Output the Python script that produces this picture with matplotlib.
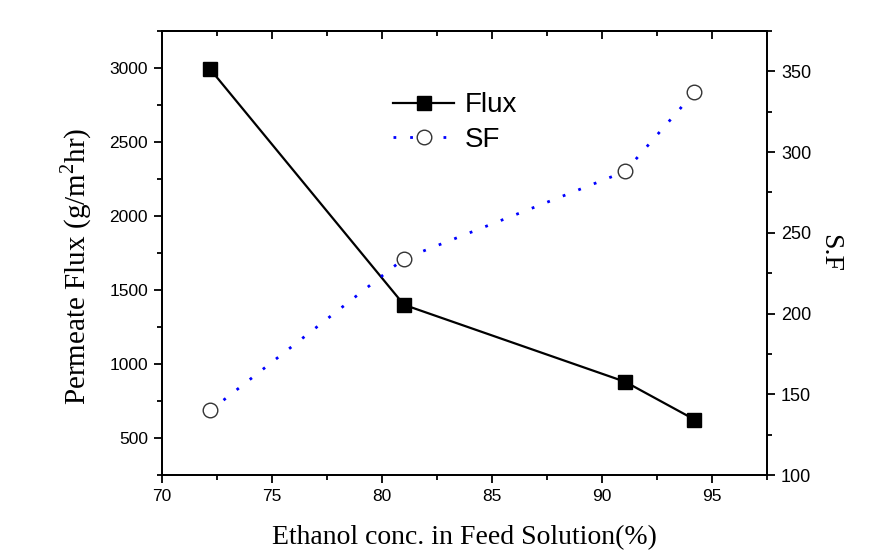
import numpy as np
import matplotlib.pyplot as plt
from matplotlib.ticker import MultipleLocator

# Feed ethanol concentration (%)
ethanol = [72.2, 81.0, 91.05, 94.2]
# Permeate flux (g/m2 hr)
flux = [2990, 1400, 880, 625]
# Separation factor
sf = [140, 234, 288, 337]

SANS = ["Liberation Sans", "DejaVu Sans"]
SERIF = ["Liberation Serif", "DejaVu Serif"]

plt.rcParams["font.family"] = SANS
plt.rcParams["mathtext.fontset"] = "custom"
plt.rcParams["mathtext.rm"] = "Liberation Serif"

fig = plt.figure(figsize=(8.76, 5.52), dpi=100)
ax = fig.add_axes([162 / 876, 1 - 475 / 552, (767 - 162) / 876, (475 - 31) / 552])
ax2 = ax.twinx()

l1, = ax.plot(ethanol, flux, color="black", lw=1.6, marker="s", ms=9.5,
              mfc="black", mec="black", label="Flux")
l2, = ax2.plot(ethanol, sf, color="blue", lw=2.0, ls=(0, (1, 5)), marker="o",
               ms=10.5, mfc="white", mec="#333333", mew=1.0, label="SF")

ax.set_xlim(70, 97.5)
ax.set_ylim(250, 3250)
ax2.set_ylim(100, 375)

ax.xaxis.set_major_locator(MultipleLocator(5))
ax.xaxis.set_minor_locator(MultipleLocator(2.5))
ax.yaxis.set_major_locator(MultipleLocator(500))
ax.yaxis.set_minor_locator(MultipleLocator(250))
ax2.yaxis.set_major_locator(MultipleLocator(50))
ax2.yaxis.set_minor_locator(MultipleLocator(25))

for a in (ax, ax2):
    for s in a.spines.values():
        s.set_linewidth(1.3)

ax.tick_params(axis="both", which="major", direction="out", length=6, width=1.3,
               labelsize=12.5, pad=4)
ax.tick_params(axis="both", which="minor", direction="out", length=3.5, width=1.3)
ax.tick_params(axis="y", which="both", right=False)
ax2.tick_params(axis="y", which="major", direction="out", length=6, width=1.3,
                labelsize=13, pad=4)
ax2.tick_params(axis="y", which="minor", direction="out", length=3.5, width=1.3)

# top axis: mirrored ticks pointing inward, no labels
top = ax.secondary_xaxis("top")
top.xaxis.set_major_locator(MultipleLocator(5))
top.xaxis.set_minor_locator(MultipleLocator(2.5))
top.tick_params(which="major", direction="in", length=6, width=1.3, labeltop=False)
top.tick_params(which="minor", direction="in", length=3.5, width=1.3)
top.spines["top"].set_linewidth(1.3)

ax.set_xlabel("Ethanol conc. in Feed Solution(%)", family=SERIF, fontsize=20,
              labelpad=15)
ax.set_ylabel("Permeate Flux (g/m$^2$hr)", family=SERIF, fontsize=21)
ax.yaxis.set_label_coords(-0.112, 0.47)
ax2.set_ylabel("S.F", family=SERIF, fontsize=20, rotation=270, labelpad=22)

fig.legend(handles=[l1, l2], loc="center left",
           bbox_to_anchor=(368 / 876, 1 - 122.5 / 552), frameon=False,
           fontsize=20, handlelength=2.2, handletextpad=0.4, labelspacing=0.3,
           numpoints=1)

fig.savefig("out.png", dpi=100)
